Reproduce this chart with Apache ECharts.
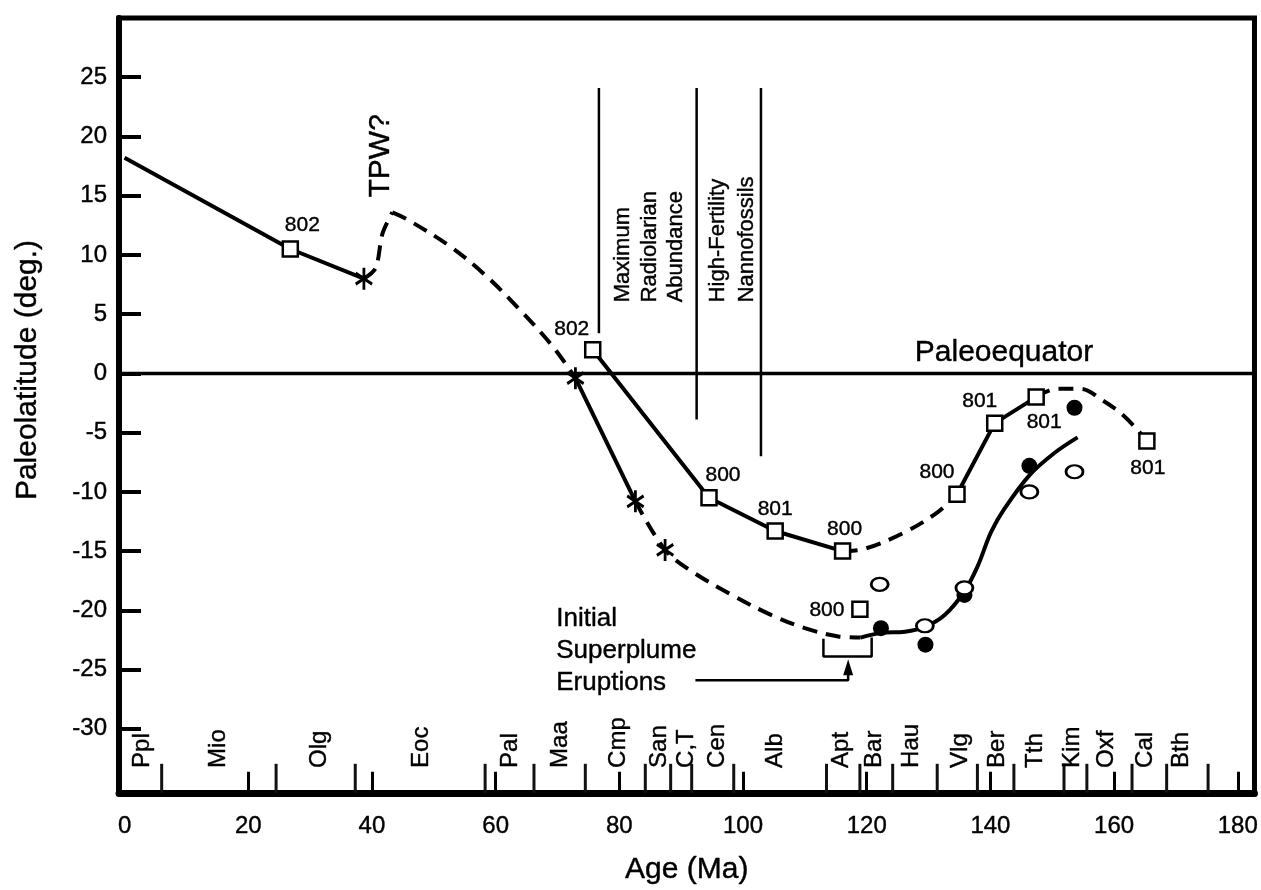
<!DOCTYPE html>
<html>
<head>
<meta charset="utf-8">
<script src="https://cdn.jsdelivr.net/npm/echarts@6/dist/echarts.min.js"></script>
<style>
html,body{margin:0;padding:0;background:#fff;}
#chart{width:1261px;height:890px;}
</style>
</head>
<body>
<div id="chart"></div>
<script>
// ---------- data ----------
const xTickValues = [0, 20, 40, 60, 80, 100, 120, 140, 160, 180];
const yTickValues = [-30, -25, -20, -15, -10, -5, 0, 5, 10, 15, 20, 25];

const stageBounds = [6, 24.5, 37.3, 58.3, 66.2, 74.5, 84.2, 88.3, 91.7, 98.5, 113.5, 118.9, 124.2, 131.4, 137.9, 143.8, 151.9, 155.6, 162.9, 168.5, 175.2];
const stageNames = ['Ppl', 'Mio', 'Olg', 'Eoc', 'Pal', 'Maa', 'Cmp', 'San', 'C,T', 'Cen', 'Alb', 'Apt', 'Bar', 'Hau', 'Vlg', 'Ber', 'Tth', 'Kim', 'Oxf', 'Cal', 'Bth'];
const stageLabelAges = [2.8, 15.1, 31.5, 48, 62.4, 70.5, 79.9, 86.4, 90.9, 95.8, 105.2, 115.9, 121.2, 127.3, 135.2, 141.1, 147.3, 153.2, 158.8, 165, 170.9];

// lower (site 802 / 800 / 801) path pieces
const seg1Age = [0, 26.8, 38.7];
const seg1Lat = [18.2, 10.5, 8.0];
const seg2Age = [38.7, 40.6, 41.7, 43.3];
const seg2Lat = [8.0, 8.9, 11.8, 13.6];
const seg3Age = [43.3, 45.7, 52.7, 58.1, 63.5, 69.2, 72.9];
const seg3Lat = [13.6, 13.0, 10.7, 8.4, 5.6, 2.3, -0.4];
const seg4Age = [72.9, 82.6];
const seg4Lat = [-0.4, -10.8];
const seg5Age = [82.6, 87.4, 91.7, 98.2, 104.6, 110.0, 115.4, 119.0];
const seg5Lat = [-10.8, -14.9, -16.7, -18.7, -20.4, -21.5, -22.2, -22.3];
const seg6Age = [119.0, 122.3, 126.2, 129.4, 132.6, 135.8, 138.0, 140.1, 142.3, 146.3, 150.4, 154.1];
const seg6Lat = [-22.3, -21.9, -21.8, -21.4, -20.4, -18.4, -16.2, -13.4, -11.4, -8.6, -6.7, -5.4];

// upper path pieces
const seg7Age = [75.7, 94.5, 105.2, 116.1];
const seg7Lat = [2.0, -10.5, -13.3, -15.0];
const seg8Age = [116.1, 119.7, 126.2, 131.5, 134.6];
const seg8Lat = [-15.0, -14.8, -13.4, -11.7, -10.2];
const seg9Age = [134.6, 140.7, 147.4];
const seg9Lat = [-10.2, -4.2, -2.0];
const seg10Age = [147.4, 150.9, 154.6, 157.9, 161.6, 165.3];
const seg10Lat = [-2.0, -1.3, -1.3, -2.2, -3.6, -5.7];

// symbols
const sqAge = [26.8, 75.7, 94.5, 105.2, 116.1, 118.9, 134.6, 140.7, 147.4, 165.3];
const sqLat = [10.5, 2.0, -10.5, -13.3, -15.0, -19.9, -10.2, -4.2, -2.0, -5.7];
const sqSite = ['802', '802', '800', '801', '800', '800', '800', '801', '801', '801'];
const astAge = [38.7, 72.9, 82.6, 87.4];
const astLat = [8.0, -0.4, -10.8, -14.9];
const openAge = [122.1, 129.4, 135.8, 146.3, 153.6];
const openLat = [-17.8, -21.3, -18.1, -10.0, -8.3];
const filledAge = [122.3, 129.5, 135.8, 146.3, 153.6];
const filledLat = [-21.5, -22.9, -18.7, -7.8, -2.9];

// annotation lines
const annAge = [76.7, 92.5, 102.9];
const annTop = [24.1, 24.1, 24.1];
const annBottom = [3.4, -3.9, -7.0];
const annTexts = ['Maximum', 'Radiolarian', 'Abundance', 'High-Fertility', 'Nannofossils'];
const annTextAges = [80.6, 84.9, 89.1, 96.0, 100.7];
const annTextBase = 6.0;

const bracketAge = [113.0, 113.0, 120.8, 120.8];
const bracketLat = [-22.4, -23.9, -23.9, -22.3];
const arrowAge = [92.3, 117.0, 117.0];
const arrowLat = [-25.9, -25.9, -24.8];

// ---------- styles (not data) ----------
const FONT = "'Liberation Sans', Arial, Helvetica, sans-serif";
const INK = '#000';
const X_MIN = -0.9, X_MAX = 182.7, Y_MIN = -35.4, Y_MAX = 30;
const STAGE_LABEL_BASE = -33.3;
const sqLabelOffsets = [[12, -24], [-21, -21], [14, -23], [0, -22], [2, -22], [-33, 1], [-20, -22], [-15, -22], [8, 25], [1, 27]];
const TXT = { fontFamily: FONT, color: INK, textBorderColor: INK, textBorderWidth: 0.4, opacity: 1 };

function pairs(a, b) { return a.map((v, i) => [v, b[i]]); }

function lineSeries(age, lat, dashed, smooth) {
  return {
    type: 'line', data: pairs(age, lat), symbol: 'none', smooth: smooth || false,
    lineStyle: { color: INK, width: 4, type: dashed ? [15, 9] : 'solid', cap: 'butt', opacity: 1 },
    z: 3, silent: true, animation: false
  };
}

const series = [];
// equator
series.push({ type: 'line', data: [[X_MIN, 0], [X_MAX, 0]], symbol: 'none', lineStyle: { color: INK, width: 3.5 }, z: 2, silent: true });
// annotation vertical lines
annAge.forEach((a, i) => {
  series.push({ type: 'line', data: [[a, annTop[i]], [a, annBottom[i]]], symbol: 'none', lineStyle: { color: INK, width: 2.5 }, z: 2, silent: true });
});
// paths
series.push(lineSeries(seg1Age, seg1Lat, false, false));
series.push(lineSeries(seg2Age, seg2Lat, true, 0.3));
series.push(lineSeries(seg3Age, seg3Lat, true, 0.35));
series.push(lineSeries(seg4Age, seg4Lat, false, false));
series.push(lineSeries(seg5Age, seg5Lat, true, 0.35));
series.push(lineSeries(seg6Age, seg6Lat, false, 0.35));
series.push(lineSeries(seg7Age, seg7Lat, false, false));
series.push(lineSeries(seg8Age, seg8Lat, true, 0.35));
series.push(lineSeries(seg9Age, seg9Lat, false, false));
series.push(lineSeries(seg10Age, seg10Lat, true, 0.4));
// bracket
series.push({ type: 'line', data: pairs(bracketAge, bracketLat), symbol: 'none', lineStyle: { color: INK, width: 2.5 }, z: 2, silent: true });
// arrow
series.push({
  type: 'line',
  data: pairs(arrowAge, arrowLat).map((p, i, arr) => i === arr.length - 1
    ? { value: p, symbol: 'triangle', symbolSize: [10, 16], itemStyle: { color: INK, opacity: 1 } }
    : { value: p, symbol: 'none' }),
  showAllSymbol: true,
  lineStyle: { color: INK, width: 2.5 }, z: 2, silent: true
});
// stage boundary ticks
series.push({
  type: 'custom', data: stageBounds.map(v => [v, Y_MIN]), encode: { x: 0, y: 1 }, clip: false, silent: true, z: 4,
  renderItem: function (params, api) {
    const p = api.coord([api.value(0), api.value(1)]);
    return { type: 'line', shape: { x1: p[0], y1: p[1], x2: p[0], y2: p[1] - 29 }, style: { stroke: '#111', lineWidth: 3 } };
  }
});
// stage labels
series.push({
  type: 'scatter', symbolSize: 0, silent: true, z: 5, itemStyle: { opacity: 1 },
  data: stageLabelAges.map((a, i) => ({ value: [a, STAGE_LABEL_BASE], name: stageNames[i] })),
  label: Object.assign({ show: true, formatter: '{b}', position: 'inside', rotate: 90, align: 'left', verticalAlign: 'middle', fontSize: 24 }, TXT)
});
// annotation rotated texts
series.push({
  type: 'scatter', symbolSize: 0, silent: true, z: 5, itemStyle: { opacity: 1 },
  data: annTextAges.map((a, i) => ({ value: [a, annTextBase], name: annTexts[i] })),
  label: Object.assign({ show: true, formatter: '{b}', position: 'inside', rotate: 90, align: 'left', verticalAlign: 'middle', fontSize: 22 }, TXT)
});
// other texts
series.push({
  type: 'scatter', symbolSize: 0, silent: true, z: 5, itemStyle: { opacity: 1 },
  data: [
    { value: [41.4, 14.85], name: 'TPW?', label: { rotate: 90, align: 'left', verticalAlign: 'middle', fontSize: 30 } },
    { value: [142.2, 1.76], name: 'Paleoequator', label: { align: 'center', verticalAlign: 'middle', fontSize: 30 } },
    { value: [69.8, -23.4], name: 'Initial\nSuperplume\nEruptions', label: { align: 'left', verticalAlign: 'middle', fontSize: 26, lineHeight: 32 } }
  ],
  label: Object.assign({ show: true, formatter: '{b}', position: 'inside' }, TXT)
});
// filled circles
series.push({ type: 'scatter', data: pairs(filledAge, filledLat), symbol: 'circle', symbolSize: 16, itemStyle: { color: INK, opacity: 1 }, z: 6, silent: true });
// open circles
series.push({ type: 'scatter', data: pairs(openAge, openLat), symbol: 'circle', symbolSize: [17, 13], itemStyle: { color: '#fff', borderColor: INK, borderWidth: 2.5, opacity: 1 }, z: 7, silent: true });
// asterisks
series.push({
  type: 'scatter', data: pairs(astAge, astLat),
  symbol: 'path://M0,-10L0,10M-8.66,-5L8.66,5M-8.66,5L8.66,-5', symbolKeepAspect: true, symbolSize: [19, 22],
  itemStyle: { color: 'rgba(0,0,0,0)', borderColor: INK, borderWidth: 3, opacity: 1 }, z: 7, silent: true
});
// squares
series.push({
  type: 'scatter', symbol: 'rect', symbolSize: 15, z: 8, silent: true,
  data: sqAge.map((a, i) => ({ value: [a, sqLat[i]], name: sqSite[i], label: { offset: sqLabelOffsets[i] } })),
  itemStyle: { color: '#fff', borderColor: INK, borderWidth: 2.5, opacity: 1 },
  label: Object.assign({ show: true, formatter: '{b}', position: 'inside', align: 'center', verticalAlign: 'middle', fontSize: 21 }, TXT)
});

const option = {
  animation: false,
  backgroundColor: '#fff',
  grid: { left: 119, right: 4, top: 18, bottom: 94, show: true, borderColor: INK, borderWidth: 5, backgroundColor: 'transparent' },
  xAxis: {
    type: 'value', min: X_MIN, max: X_MAX,
    name: 'Age (Ma)', nameLocation: 'middle', nameGap: 62,
    nameTextStyle: { fontSize: 30, fontFamily: FONT, color: INK, textBorderColor: INK, textBorderWidth: 0.4 },
    axisLine: { show: true, onZero: false, lineStyle: { color: INK, width: 7 } },
    axisTick: { show: true, inside: true, length: 21, customValues: xTickValues.slice(1), lineStyle: { color: INK, width: 3 } },
    axisLabel: { show: true, customValues: xTickValues, margin: 22, fontSize: 24, fontFamily: FONT, color: INK, textBorderColor: INK, textBorderWidth: 0.4 },
    splitLine: { show: false }
  },
  yAxis: {
    type: 'value', min: Y_MIN, max: Y_MAX,
    axisLine: { show: true, onZero: false, lineStyle: { color: INK, width: 6 } },
    axisTick: { show: true, inside: true, length: 22, customValues: yTickValues, lineStyle: { color: INK, width: 4 } },
    axisLabel: { show: true, customValues: yTickValues, margin: 12, fontSize: 24, fontFamily: FONT, color: INK, textBorderColor: INK, textBorderWidth: 0.4 },
    splitLine: { show: false }
  },
  graphic: [{
    type: 'text', x: 28, y: 370, rotation: Math.PI / 2,
    style: { text: 'Paleolatitude (deg.)', font: "30px 'Liberation Sans', Arial, Helvetica, sans-serif", fill: INK, stroke: INK, lineWidth: 0.4, textAlign: 'center', textVerticalAlign: 'middle' }
  }],
  series: series
};

const chart = echarts.init(document.getElementById('chart'), null, { renderer: 'canvas' });
chart.setOption(option);
</script>
</body>
</html>
